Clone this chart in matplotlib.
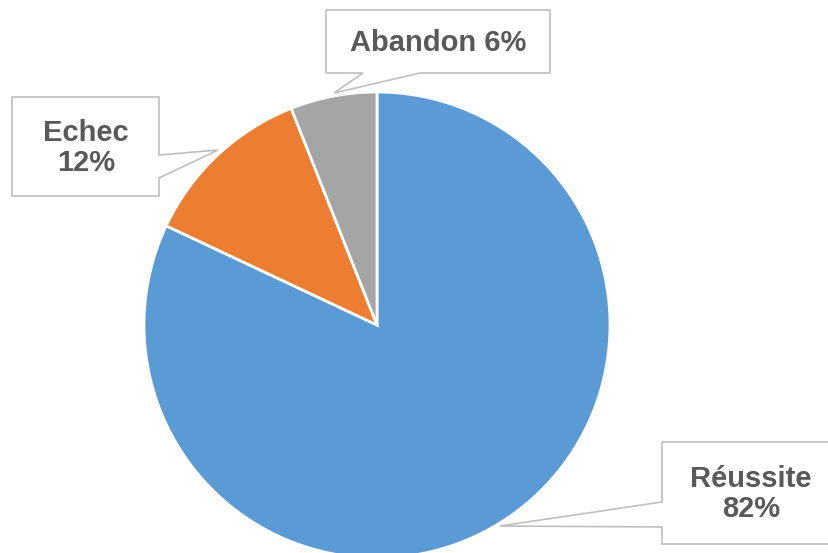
import matplotlib.pyplot as plt
from matplotlib.patches import Polygon

plt.rcParams['font.family'] = ['Liberation Sans', 'DejaVu Sans']

labels = ["Réussite", "Echec", "Abandon"]
values = [82, 12, 6]
colors = ["#5B9BD5", "#ED7D31", "#A5A5A5"]

W, H = 829, 553
fig = plt.figure(figsize=(W / 100, H / 100), dpi=100)
ax = fig.add_axes([0, 0, 1, 1])
ax.set_xlim(0, W)
ax.set_ylim(0, H)
ax.set_aspect("equal")
ax.axis("off")

# pie in pixel space (y measured from the bottom)
ax.pie(values, colors=colors, startangle=90, counterclock=False,
       center=(377, H - 325), radius=233,
       wedgeprops=dict(edgecolor="white", linewidth=2), frame=True)
ax.set_xlim(0, W)
ax.set_ylim(0, H)
ax.axis("off")


def callout(pts, text, cx, cy):
    pts = [(x, H - y) for x, y in pts]
    ax.add_patch(Polygon(pts, closed=True, facecolor="white",
                         edgecolor="#BFBFBF", linewidth=1.2, zorder=5))
    ax.text(cx, H - cy, text, ha="center", va="center", fontsize=21,
            fontweight="bold", color="#595959", linespacing=1.05, zorder=6)


# Abandon
callout([(326, 10), (550, 10), (550, 73), (420, 73), (334, 93),
         (363, 73), (326, 73)],
        f"{labels[2]} {values[2]}%", 438, 43)
# Echec
callout([(12, 97), (159, 97), (159, 155), (218, 150), (159, 178),
         (159, 196), (12, 196)],
        f"{labels[1]}\n{values[1]}%", 86, 148)
# Reussite
callout([(662, 442), (835, 442), (835, 544), (662, 544), (662, 527),
         (500, 526), (662, 502)],
        f"{labels[0]}\n{values[0]}%", 751, 494)

fig.savefig("out.png", dpi=100)
